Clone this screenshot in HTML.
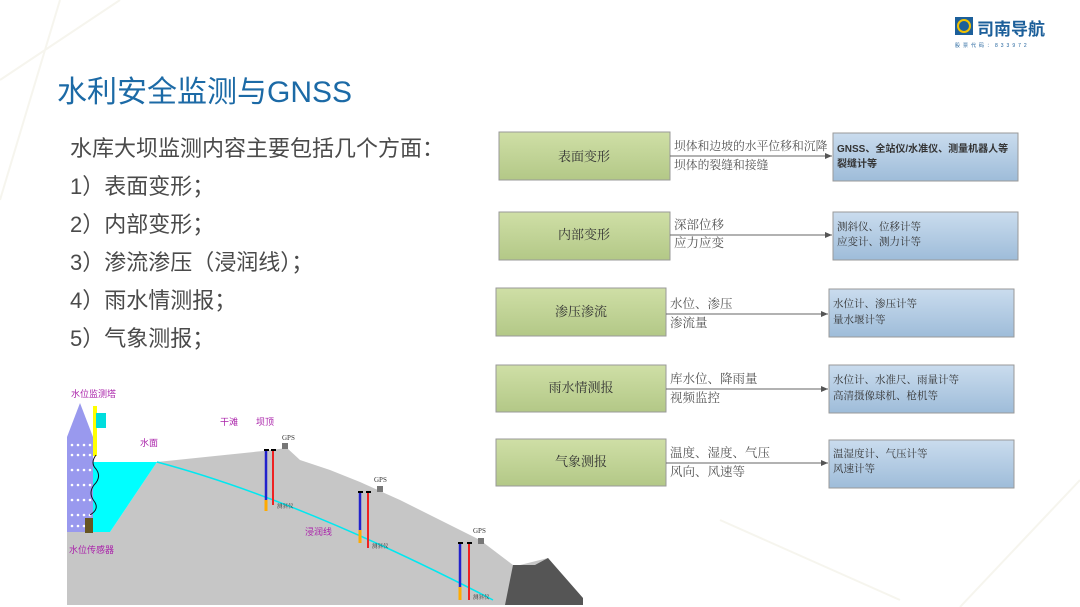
<!DOCTYPE html>
<html><head><meta charset="utf-8"><style>
html,body{margin:0;padding:0;background:#fff;}
body{width:1080px;height:607px;position:relative;overflow:hidden;font-family:"Liberation Sans","Noto Sans CJK SC",sans-serif;}
.t{position:absolute;white-space:nowrap;}
</style></head><body>
<svg width="1080" height="607" style="position:absolute;left:0;top:0">
<defs>
<linearGradient id="g" x1="0" y1="0" x2="0" y2="1"><stop offset="0" stop-color="#cfdfa6"/><stop offset="1" stop-color="#b3c887"/></linearGradient>
<linearGradient id="b" x1="0" y1="0" x2="0" y2="1"><stop offset="0" stop-color="#cadcee"/><stop offset="1" stop-color="#9ebcd9"/></linearGradient>
<marker id="a" markerWidth="8" markerHeight="8" refX="7" refY="4" orient="auto"><path d="M0,1 L7,4 L0,7z" fill="#555"/></marker>
</defs>
<path d="M0,80 L120,0 M0,200 L60,0 M720,520 L900,600 M960,607 L1080,480" stroke="#f6f5ee" stroke-width="2" fill="none"/>
<rect x="955" y="17" width="18" height="18" fill="#1c5f9a"/>
<circle cx="964" cy="26" r="6" fill="none" stroke="#f2c200" stroke-width="2"/>
<text x="977" y="35" font-size="17" font-weight="bold" fill="#1c5f9a" font-family="Liberation Sans,Noto Sans CJK SC,sans-serif">司南导航</text>
<text x="955" y="47" font-size="5" fill="#1c5f9a" letter-spacing="3">股票代码：833972</text>

<g font-family="Liberation Serif,Noto Serif CJK SC,serif">
<g>
<rect x="499" y="132" width="171" height="48" fill="url(#g)" stroke="#999"/>
<text x="584" y="161" font-size="13" text-anchor="middle" fill="#333">表面变形</text>
<line x1="670" y1="156" x2="832" y2="156" stroke="#666" marker-end="url(#a)"/>
<text x="674" y="150" font-size="11.8" fill="#555">坝体和边坡的水平位移和沉降</text>
<text x="674" y="169" font-size="11.8" fill="#555">坝体的裂缝和接缝</text>
<rect x="833" y="133" width="185" height="48" fill="url(#b)" stroke="#999"/>
<text x="837" y="152" font-size="10" font-weight="bold" fill="#333" font-family="Liberation Sans,Noto Sans CJK SC,sans-serif">GNSS、全站仪/水准仪、测量机器人等</text>
<text x="837" y="167" font-size="10" font-weight="bold" fill="#333" font-family="Liberation Sans,Noto Sans CJK SC,sans-serif">裂缝计等</text>
</g>
<g font-size="10" fill="#333">
</g>
<g>
<rect x="499" y="212" width="171" height="48" fill="url(#g)" stroke="#999"/>
<text x="584" y="239" font-size="13" text-anchor="middle" fill="#333">内部变形</text>
<line x1="670" y1="235" x2="832" y2="235" stroke="#666" marker-end="url(#a)"/>
<text x="674" y="229" font-size="12.5" fill="#555">深部位移</text>
<text x="674" y="247" font-size="12.5" fill="#555">应力应变</text>
<rect x="833" y="212" width="185" height="48" fill="url(#b)" stroke="#999"/>
<text x="837" y="230" font-size="10.5" fill="#333">测斜仪、位移计等</text>
<text x="837" y="245" font-size="10.5" fill="#333">应变计、测力计等</text>
</g>
<g>
<rect x="496" y="288" width="170" height="48" fill="url(#g)" stroke="#999"/>
<text x="581" y="316" font-size="13" text-anchor="middle" fill="#333">渗压渗流</text>
<line x1="666" y1="314" x2="828" y2="314" stroke="#666" marker-end="url(#a)"/>
<text x="670" y="308" font-size="12.5" fill="#555">水位、渗压</text>
<text x="670" y="327" font-size="12.5" fill="#555">渗流量</text>
<rect x="829" y="289" width="185" height="48" fill="url(#b)" stroke="#999"/>
<text x="833" y="307" font-size="10.5" fill="#333">水位计、渗压计等</text>
<text x="833" y="323" font-size="10.5" fill="#333">量水堰计等</text>
</g>
<g>
<rect x="496" y="365" width="170" height="47" fill="url(#g)" stroke="#999"/>
<text x="581" y="392" font-size="13" text-anchor="middle" fill="#333">雨水情测报</text>
<line x1="666" y1="389" x2="828" y2="389" stroke="#666" marker-end="url(#a)"/>
<text x="670" y="383" font-size="12.5" fill="#555">库水位、降雨量</text>
<text x="670" y="402" font-size="12.5" fill="#555">视频监控</text>
<rect x="829" y="365" width="185" height="48" fill="url(#b)" stroke="#999"/>
<text x="833" y="383" font-size="10.5" fill="#333">水位计、水准尺、雨量计等</text>
<text x="833" y="399" font-size="10.5" fill="#333">高清摄像球机、枪机等</text>
</g>
<g>
<rect x="496" y="439" width="170" height="47" fill="url(#g)" stroke="#999"/>
<text x="581" y="466" font-size="13" text-anchor="middle" fill="#333">气象测报</text>
<line x1="666" y1="463" x2="828" y2="463" stroke="#666" marker-end="url(#a)"/>
<text x="670" y="457" font-size="12.5" fill="#555">温度、湿度、气压</text>
<text x="670" y="476" font-size="12.5" fill="#555">风向、风速等</text>
<rect x="829" y="440" width="185" height="48" fill="url(#b)" stroke="#999"/>
<text x="833" y="457" font-size="10.5" fill="#333">温湿度计、气压计等</text>
<text x="833" y="472" font-size="10.5" fill="#333">风速计等</text>
</g>
</g>

<g>
<polygon points="67,532 110,532 157,462 263,451 287,448 300,460 330,470 360,482 400,500 440,520 480,540 513,565 520,565 548,558 583,600 583,605 67,605" fill="#c6c6c6"/>
<polygon points="513,565 535,565 548,558 583,598 583,605 505,605" fill="#555"/>
<polygon points="93,462 157,462 110,532 93,532" fill="#00ffff"/>
<rect x="67" y="437" width="26" height="95" fill="#9999ee"/>
<polygon points="67,437 80,403 93,437" fill="#9999ee"/>
<g fill="#fff">
<circle cx="72" cy="445" r="1.3"/><circle cx="78" cy="445" r="1.3"/><circle cx="84" cy="445" r="1.3"/><circle cx="90" cy="445" r="1.3"/>
<circle cx="72" cy="455" r="1.3"/><circle cx="78" cy="455" r="1.3"/><circle cx="84" cy="455" r="1.3"/><circle cx="90" cy="455" r="1.3"/>
<circle cx="72" cy="470" r="1.3"/><circle cx="78" cy="470" r="1.3"/><circle cx="84" cy="470" r="1.3"/><circle cx="90" cy="470" r="1.3"/>
<circle cx="72" cy="485" r="1.3"/><circle cx="78" cy="485" r="1.3"/><circle cx="84" cy="485" r="1.3"/><circle cx="90" cy="485" r="1.3"/>
<circle cx="72" cy="500" r="1.3"/><circle cx="78" cy="500" r="1.3"/><circle cx="84" cy="500" r="1.3"/><circle cx="90" cy="500" r="1.3"/>
<circle cx="72" cy="515" r="1.3"/><circle cx="78" cy="515" r="1.3"/><circle cx="84" cy="515" r="1.3"/><circle cx="90" cy="515" r="1.3"/>
<circle cx="72" cy="526" r="1.3"/><circle cx="78" cy="526" r="1.3"/><circle cx="84" cy="526" r="1.3"/><circle cx="90" cy="526" r="1.3"/>
</g>
<rect x="93" y="406" width="4" height="50" fill="#ffff00"/>
<rect x="96" y="413" width="10" height="15" fill="#00dddd"/>
<path d="M96,455 q-6,8 0,14 q6,8 -2,16 q-6,8 0,16 q6,8 -4,14" stroke="#112" fill="none"/>
<rect x="85" y="518" width="8" height="15" fill="#665522"/>
<path d="M157,462 Q300,500 493,600" stroke="#00e8f0" stroke-width="1.5" fill="none"/>
<g>
<rect x="264" y="449" width="5" height="2" fill="#000"/><line x1="266" y1="451" x2="266" y2="500" stroke="#2222cc" stroke-width="2.5"/><line x1="266" y1="500" x2="266" y2="511" stroke="#ffaa00" stroke-width="3"/>
<rect x="271" y="449" width="5" height="2" fill="#000"/><line x1="273" y1="451" x2="273" y2="505" stroke="#ee2222" stroke-width="2"/>
<rect x="282" y="443" width="6" height="6" fill="#777"/>
<text x="282" y="440" font-size="7" fill="#333" font-family="Liberation Serif,serif">GPS</text>
<text x="277" y="508" font-size="5.5" fill="#333" font-family="Noto Serif CJK SC,serif">测斜仪</text>
<rect x="358" y="491" width="5" height="2" fill="#000"/><line x1="360" y1="493" x2="360" y2="540" stroke="#2222cc" stroke-width="2.5"/><line x1="360" y1="530" x2="360" y2="543" stroke="#ffaa00" stroke-width="3"/>
<rect x="366" y="491" width="5" height="2" fill="#000"/><line x1="368" y1="493" x2="368" y2="548" stroke="#ee2222" stroke-width="2"/>
<rect x="377" y="486" width="6" height="6" fill="#777"/>
<text x="374" y="482" font-size="7" fill="#333" font-family="Liberation Serif,serif">GPS</text>
<text x="372" y="548" font-size="5.5" fill="#333" font-family="Noto Serif CJK SC,serif">测斜仪</text>
<rect x="458" y="542" width="5" height="2" fill="#000"/><line x1="460" y1="544" x2="460" y2="590" stroke="#2222cc" stroke-width="2.5"/><line x1="460" y1="587" x2="460" y2="600" stroke="#ffaa00" stroke-width="3"/>
<rect x="467" y="542" width="5" height="2" fill="#000"/><line x1="469" y1="544" x2="469" y2="600" stroke="#ee2222" stroke-width="2"/>
<rect x="478" y="538" width="6" height="6" fill="#777"/>
<text x="473" y="533" font-size="7" fill="#333" font-family="Liberation Serif,serif">GPS</text>
<text x="473" y="599" font-size="5.5" fill="#333" font-family="Noto Serif CJK SC,serif">测斜仪</text>
</g>
<g font-size="9" fill="#aa22aa" font-family="Noto Sans CJK SC,sans-serif">
<text x="71" y="397">水位监测塔</text>
<text x="69" y="553">水位传感器</text>
<text x="140" y="446">水面</text>
<text x="220" y="425">干滩</text>
<text x="256" y="425">坝顶</text>
<text x="305" y="535">浸润线</text>
</g>
</g>
</svg>
<div class="t" style="left:57px;top:67px;font-size:30px;color:#1c6aa6;">水利安全监测与GNSS</div>
<div class="t" style="left:70px;top:130px;font-size:22px;line-height:38px;color:#4a4a4a;">水库大坝监测内容主要包括几个方面：<br>1）表面变形；<br>2）内部变形；<br>3）渗流渗压（浸润线）；<br>4）雨水情测报；<br>5）气象测报；</div>
</body></html>
